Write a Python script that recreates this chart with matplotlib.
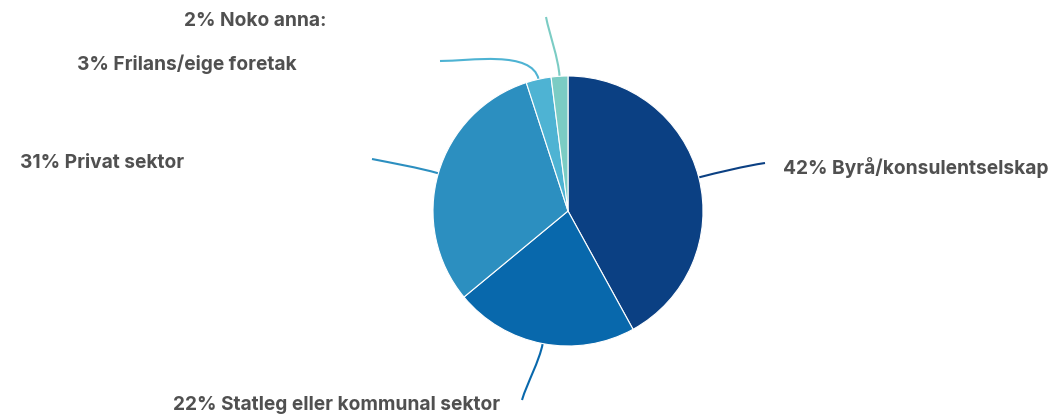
import matplotlib.pyplot as plt
import numpy as np
from matplotlib.path import Path
from matplotlib.patches import PathPatch

labels = ["42% Byrå/konsulentselskap", "22% Statleg eller kommunal sektor",
          "31% Privat sektor", "3% Frilans/eige foretak", "2% Noko anna:"]
values = [42, 22, 31, 3, 2]
colors = ["#0b4083", "#0868ac", "#2c8fc0", "#4eb3d3", "#7bccc4"]

# layout (pixel coords, y up)
cx, cy, R = 568, 205, 135
line_ends = [(765, 253), (522, 16), (372, 257), (440, 355), (546, 399)]
end_dirs = [(-1, -0.15), (0.3, 1), (1, -0.2), (1, 0), (0.2, -1)]
text_pos = [(783, 248, "left"), (500, 11, "right"), (184, 253, "right"),
            (297, 352, "right"), (327, 395, "right")]

fig = plt.figure(figsize=(10.52, 4.16), dpi=100)
ax = fig.add_axes([0, 0, 1, 1])
wedges, _ = ax.pie(values, colors=colors, startangle=90, counterclock=False,
                   center=(cx, cy), radius=R,
                   wedgeprops=dict(linewidth=0.8, edgecolor="white"))
ax.set_aspect("auto")
ax.set_xlim(0, 1052)
ax.set_ylim(0, 416)
ax.axis("off")

for w, col, (ex, ey), (dx, dy), (tx, ty, ha), lab in zip(
        wedges, colors, line_ends, end_dirs, text_pos, labels):
    mid = np.deg2rad((w.theta1 + w.theta2) / 2)
    ux, uy = np.cos(mid), np.sin(mid)
    p0 = (cx + R * ux, cy + R * uy)
    dist = np.hypot(ex - p0[0], ey - p0[1])
    k = dist * 0.3
    p1 = (p0[0] + ux * k, p0[1] + uy * k)
    n = np.hypot(dx, dy)
    p2 = (ex + dx / n * k, ey + dy / n * k)
    path = Path([p0, p1, p2, (ex, ey)],
                [Path.MOVETO, Path.CURVE4, Path.CURVE4, Path.CURVE4])
    ax.add_patch(PathPatch(path, fc="none", ec=col, lw=1.5, zorder=0))
    ax.text(tx, ty, lab, ha=ha, va="center", fontsize=13.8,
            fontweight="bold", family="Inter", color="#505050")

fig.savefig("out.png", dpi=100)
